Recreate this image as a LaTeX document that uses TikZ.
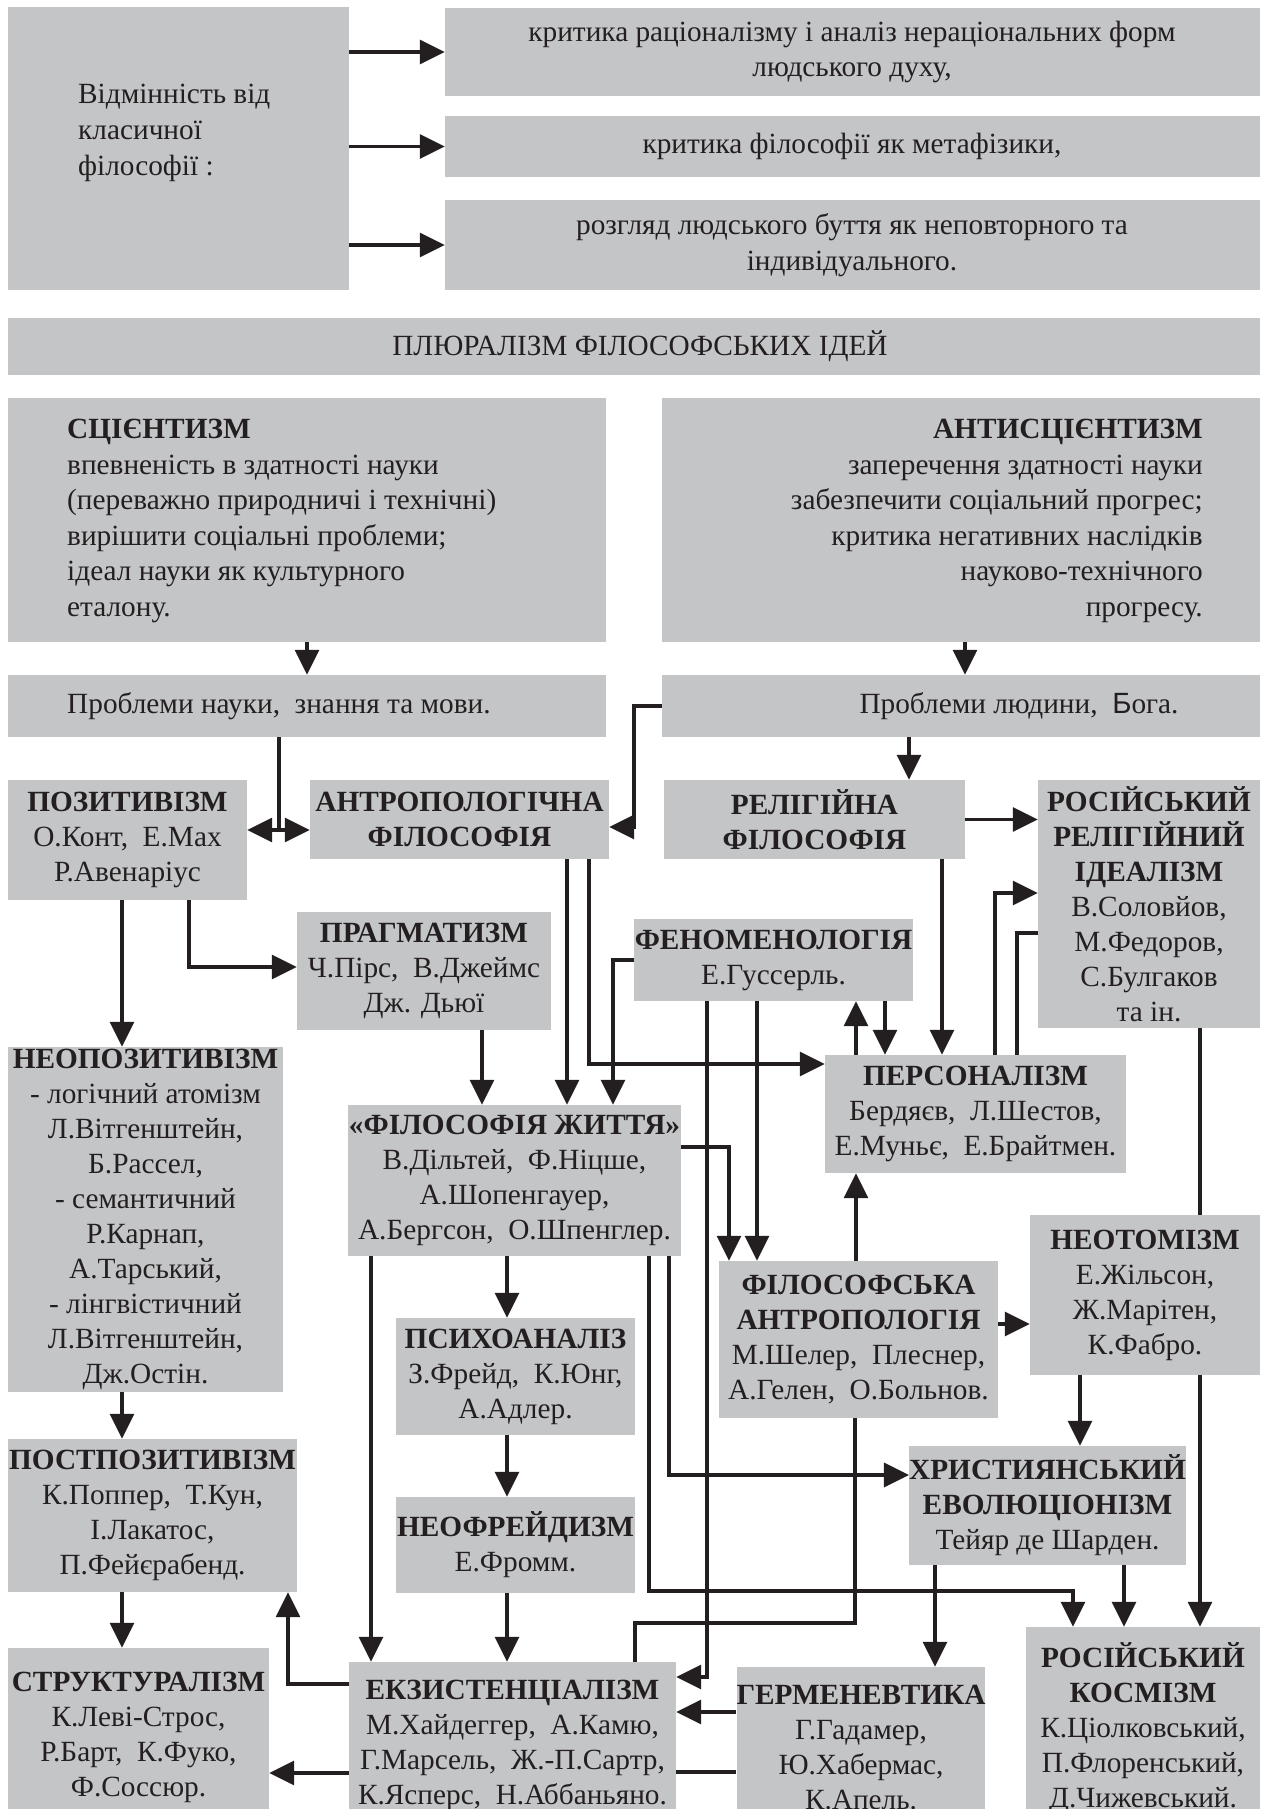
\documentclass[tikz,border=0pt]{standalone}
\usepackage{fontspec}
\setmainfont{Liberation Serif}
\newfontfamily\sansf{Liberation Sans}
\usetikzlibrary{arrows.meta}
\definecolor{boxgray}{RGB}{196,197,199}
\definecolor{linec}{RGB}{35,31,32}
\newcommand\bx[6]{\node[box, minimum width={#4-#2}, minimum height={#5-#3}] (#1) at ({(#2+#4)/2},{(#3+#5)/2}) {#6};}
\begin{document}
\begin{tikzpicture}[x=1pt,y=-1pt,
  box/.style={fill=boxgray, draw=none, inner sep=0pt, align=center, text=linec, font=\fontsize{29.3}{35}\selectfont},
  txt/.style={inner sep=0pt, text=linec, font=\fontsize{29.3}{35}\selectfont},
  bigtxt/.style={font=\fontsize{29.3}{35.6}\selectfont},
  conn/.style={draw=linec, line width=3.2pt},
  arr/.style={conn, -{Triangle[length=25pt,width=24pt]}},
  arrboth/.style={conn, {Triangle[length=25pt,width=24pt]}-{Triangle[length=25pt,width=24pt]}}
]
\useasboundingbox (0,0) rectangle (1267,1809);
% ---------- top section
\bx{diff}{8}{7}{349}{290}{}
\node[txt, bigtxt, align=left, anchor=west] (difft) at (78,133) {Відмінність від\\класичної\\філософії :};
\bx{c1}{445}{8}{1260}{96}{}
\node[txt, bigtxt, align=center] (c1t) at (852,52) {критика раціоналізму і аналіз нераціональних форм\\людського духу,};
\bx{c2}{445}{116}{1260}{177}{}
\node[txt, bigtxt] (c2t) at (852,146) {критика філософії як метафізики,};
\bx{c3}{445}{200}{1260}{290}{}
\node[txt, bigtxt, align=center] (c3t) at (852,245) {розгляд людського буття як неповторного та\\індивідуального.};
\bx{plur}{8}{318}{1260}{375}{}
\node[txt, bigtxt] (plurt) at (640,346) {ПЛЮРАЛІЗМ ФІЛОСОФСЬКИХ ІДЕЙ};
% ---------- scientism / antiscientism
\bx{scien}{8}{398}{606}{642}{}
\node[txt, bigtxt, align=left, anchor=west] (sciet) at (67,521) {\textbf{СЦІЄНТИЗМ}\\впевненість в здатності науки\\(переважно природничі і технічні)\\вирішити соціальні проблеми;\\ідеал науки як культурного\\еталону.};
\bx{anti}{662}{398}{1260}{642}{}
\node[txt, bigtxt, align=right, anchor=east] (antit) at (1203,521) {\textbf{АНТИСЦІЄНТИЗМ}\\заперечення здатності науки\\забезпечити соціальний прогрес;\\критика негативних наслідків\\науково-технічного\\прогресу.};
\bx{probsci}{8}{675}{606}{737}{}
\node[txt, bigtxt, anchor=west] (probscit) at (67,706) {Проблеми науки,~ знання та мови.};
\bx{probman}{662}{675}{1260}{737}{}
\node[txt, bigtxt] (probmant) at (1019,706) {Проблеми людини,~ {\sansf Б}ога.};
% ---------- schools
\bx{pozit}{8}{780}{247}{900}{\textbf{ПОЗИТИВІЗМ}\\О.Конт,~ Е.Мах\\Р.Авенаріус}
\bx{anthr}{310}{780}{609}{859}{\textbf{АНТРОПОЛОГІЧНА}\\\textbf{ФІЛОСОФІЯ}}
\bx{relig}{664}{780}{965}{859}{\textbf{РЕЛІГІЙНА}\\\textbf{ФІЛОСОФІЯ}}
\bx{rusrel}{1038}{780}{1260}{1028}{\textbf{РОСІЙСЬКИЙ}\\\textbf{РЕЛІГІЙНИЙ}\\\textbf{ІДЕАЛІЗМ}\\В.Соловйов,\\М.Федоров,\\С.Булгаков\\та ін.}
\bx{pragm}{297}{912}{551}{1030}{\textbf{ПРАГМАТИЗМ}\\Ч.Пірс,~ В.Джеймс\\Дж. Дьюї}
\bx{fenom}{634}{919}{913}{1001}{\textbf{ФЕНОМЕНОЛОГІЯ}\\Е.Гуссерль.}
\bx{pers}{825}{1055}{1126}{1173}{\textbf{ПЕРСОНАЛІЗМ}\\Бердяєв,~ Л.Шестов,\\Е.Муньє,~ Е.Брайтмен.}
\bx{neopoz}{8}{1047}{283}{1392}{\textbf{НЕОПОЗИТИВІЗМ}\\- логічний атомізм\\Л.Вітгенштейн,\\Б.Рассел,\\- семантичний\\Р.Карнап,\\А.Тарський,\\- лінгвістичний\\Л.Вітгенштейн,\\Дж.Остін.}
\bx{life}{348}{1105}{681}{1256}{\textbf{«ФІЛОСОФІЯ ЖИТТЯ»}\\В.Дільтей,~ Ф.Ніцше,\\А.Шопенгауер,\\А.Бергсон,~ О.Шпенглер.}
\bx{neotom}{1030}{1215}{1260}{1375}{\textbf{НЕОТОМІЗМ}\\Е.Жільсон,\\Ж.Марітен,\\К.Фабро.}
\bx{filanth}{719}{1261}{998}{1418}{\textbf{ФІЛОСОФСЬКА}\\\textbf{АНТРОПОЛОГІЯ}\\М.Шелер,~ Плеснер,\\А.Гелен,~ О.Больнов.}
\bx{psych}{396}{1318}{635}{1435}{\textbf{ПСИХОАНАЛІЗ}\\З.Фрейд,~ К.Юнг,\\А.Адлер.}
\bx{postpoz}{8}{1439}{297}{1592}{\textbf{ПОСТПОЗИТИВІЗМ}\\К.Поппер,~ Т.Кун,\\І.Лакатос,\\П.Фейєрабенд.}
\bx{christ}{912}{1446}{1183}{1565}{\textbf{ХРИСТИЯНСЬКИЙ}\\\textbf{ЕВОЛЮЦІОНІЗМ}\\Тейяр де Шарден.}
\bx{neofr}{396}{1497}{635}{1593}{\textbf{НЕОФРЕЙДИЗМ}\\Е.Фромм.}
\bx{strukt}{8}{1648}{269}{1826}{\textbf{СТРУКТУРАЛІЗМ}\\К.Леві-Строс,\\Р.Барт,~ К.Фуко,\\Ф.Соссюр.}
\bx{exist}{349}{1662}{676}{1828}{\textbf{ЕКЗИСТЕНЦІАЛІЗМ}\\М.Хайдеггер,~ А.Камю,\\Г.Марсель,~ Ж.-П.Сартр,\\К.Ясперс,~ Н.Аббаньяно.}
\bx{herm}{737}{1667}{985}{1828}{\textbf{ГЕРМЕНЕВТИКА}\\Г.Гадамер,\\Ю.Хабермас,\\К.Апель.}
\bx{kosm}{1026}{1627}{1260}{1830}{\textbf{РОСІЙСЬКИЙ}\\\textbf{КОСМІЗМ}\\К.Ціолковський,\\П.Флоренський,\\Д.Чижевський.}
% ---------- helper coordinates
\coordinate (j279) at (279,830);
\coordinate (j634) at (634,827);
\coordinate (j589) at (589,1064);
\coordinate (j995) at (995,893);
\coordinate (j1017) at (1017,933);
\coordinate (j729) at (729,1147);
\coordinate (j707) at (707,1677);
\coordinate (j649) at (649,1591);
\coordinate (j1073) at (1073,1591);
\coordinate (j669) at (669,1475);
\coordinate (j855) at (855,1623);
\coordinate (j635) at (635,1623);
\coordinate (j288) at (288,1684);
\coordinate (j613) at (613,960);
\coordinate (j189) at (189,967);
\coordinate (yfa) at (0,1324);
\coordinate (yh1) at (0,1712);
\coordinate (yh2) at (0,1772);
\coordinate (ye2) at (0,1773);
\coordinate (c122) at (122,0);
\coordinate (c307) at (307,0);
\coordinate (c371) at (371,0);
\coordinate (c482) at (482,0);
\coordinate (c507) at (507,0);
\coordinate (c567) at (567,0);
\coordinate (c757) at (757,0);
\coordinate (c856) at (856,0);
\coordinate (c885) at (885,0);
\coordinate (c909) at (909,0);
\coordinate (c935) at (935,0);
\coordinate (c942) at (942,0);
\coordinate (c965) at (965,0);
\coordinate (c1080) at (1080,0);
\coordinate (c1124) at (1124,0);
\coordinate (c1200) at (1200,0);
% ---------- connectors
\draw[arr] (diff.east |- c1.west) -- (c1.west);
\draw[arr] (diff.east |- c2.west) -- (c2.west);
\draw[arr] (diff.east |- c3.west) -- (c3.west);
\draw[arr] (scien.south -| c307) -- (probsci.north -| c307);
\draw[arr] (anti.south -| c965) -- (probman.north -| c965);
\draw[conn] (probsci.south -| j279) -- (j279);
\draw[arrboth] (pozit.east |- j279) -- (anthr.west |- j279);
\draw[arr] (probman.west) -| (j634) -- (anthr.east |- j634);
\draw[arr] (probman.south -| c909) -- (relig.north -| c909);
\draw[arr] (relig.east) -- (rusrel.west |- relig.east);
\draw[arr] (pozit.south -| c122) -- (neopoz.north -| c122);
\draw[arr] (pozit.south -| j189) -- (j189) -- (pragm.west |- j189);
\draw[arr] (pragm.south -| c482) -- (life.north -| c482);
\draw[arr] (anthr.south -| c567) -- (life.north -| c567);
\draw[arr] (anthr.south -| j589) -- (j589) -- (pers.west |- j589);
\draw[arr] (fenom.west |- j613) -- (j613) -- (life.north -| j613);
\draw[arr] (fenom.south -| j707) -- (j707) -- (exist.east |- j707);
\draw[arr] (fenom.south -| c757) -- (filanth.north -| c757);
\draw[arr] (pers.north -| c856) -- (fenom.south -| c856);
\draw[arr] (fenom.south -| c885) -- (pers.north -| c885);
\draw[arr] (relig.south -| c942) -- (pers.north -| c942);
\draw[arr] (pers.north -| j995) -- (j995) -- (rusrel.west |- j995);
\draw[conn] (pers.north -| j1017) -- (j1017) -- (rusrel.west |- j1017);
\draw[conn] (rusrel.south -| c1200) -- (neotom.north -| c1200);
\draw[arr] (life.east |- j729) -- (j729) -- (filanth.north -| j729);
\draw[arr] (life.south -| c371) -- (exist.north -| c371);
\draw[arr] (life.south -| c507) -- (psych.north -| c507);
\draw[arr] (life.south -| j649) -- (j649) -- (j1073) -- (kosm.north -| j1073);
\draw[arr] (life.south -| j669) -- (j669) -- (christ.west |- j669);
\draw[arr] (filanth.north -| c856) -- (pers.south -| c856);
\draw[arr] (filanth.east |- yfa) -- (neotom.west |- yfa);
\draw[conn] (filanth.south -| j855) -- (j855) -- (j635) -- (exist.north -| j635);
\draw[arr] (neotom.south -| c1080) -- (christ.north -| c1080);
\draw[arr] (neotom.south -| c1200) -- (kosm.north -| c1200);
\draw[arr] (christ.south -| c935) -- (herm.north -| c935);
\draw[arr] (christ.south -| c1124) -- (kosm.north -| c1124);
\draw[arr] (psych.south -| c507) -- (neofr.north -| c507);
\draw[arr] (neofr.south -| c507) -- (exist.north -| c507);
\draw[arr] (herm.west |- yh1) -- (exist.east |- yh1);
\draw[conn] (herm.west |- yh2) -- (exist.east |- yh2);
\draw[arr] (exist.west |- j288) -- (j288) -- (postpoz.south -| j288);
\draw[arr] (exist.west |- ye2) -- (strukt.east |- ye2);
\draw[arr] (neopoz.south -| c122) -- (postpoz.north -| c122);
\draw[arr] (postpoz.south -| c122) -- (strukt.north -| c122);
\end{tikzpicture}
\end{document}
